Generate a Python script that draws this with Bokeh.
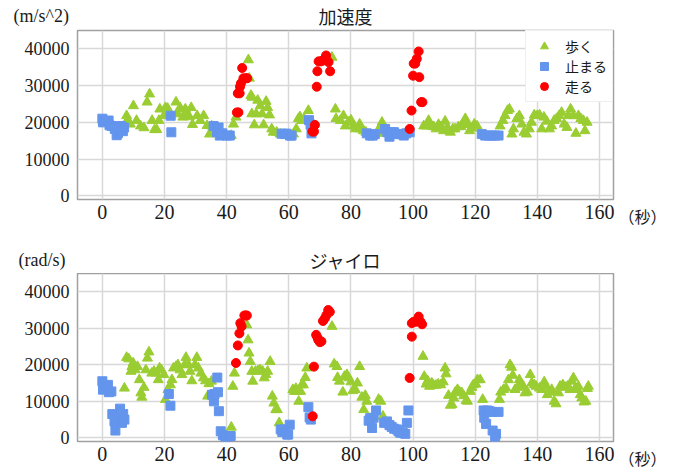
from bokeh.plotting import figure
from bokeh.layouts import column, row
from bokeh.models import Range1d, Label, Legend, LegendItem, FixedTicker
from bokeh.embed import file_html
from bokeh.resources import INLINE

# ---------------- data ----------------
acc_title = "加速度"
gyr_title = "ジャイロ"
acc_unit = "(m/s^2)"
gyr_unit = "(rad/s)"
time_unit = "（秒）"
labels = ["歩く", "止まる", "走る"]
x_ticks = [0, 20, 40, 60, 80, 100, 120, 140, 160]
y_ticks = [0, 10000, 20000, 30000, 40000]

# accelerometer: walking
acc_walk_t = [7.8, 8, 9, 10, 11, 12.3, 13.4, 14.4, 15.2, 16, 16.8, 17.5, 18.2, 18.5, 19.8, 20.3, 21, 23.7, 24.2, 25, 25.9, 26.7, 27.2, 28, 28.6, 29, 30.5, 31.5, 32.6, 33.7, 34.5, 35.2,
              41.5, 42.2, 43,
              47, 47.3, 47.8, 48.2, 48.1, 48.9, 49.5, 50, 50.8, 51.4, 51.9, 52.7, 53.2, 53.8, 54.5, 55, 56.1, 57.2,
              61.5, 62.4, 63.1, 63.6, 64.2, 64.9, 66.3,
              73.9, 75, 75.2, 76.6, 77.6, 78.2, 79.2, 80, 80.9, 81.4, 82.8, 83, 84, 84.8,
              88.9, 89.4, 90, 90.5,
              103.4, 104.2, 105, 105.8, 106.6, 107.4, 108.2, 109, 109.8, 110.3, 111, 112, 112.8, 113.5, 114.6, 115.4, 116, 116.8, 117.6, 118.2, 118.9, 119.7, 120.6,
              128, 128.9, 129.6, 130.4, 131, 131.8, 132.3, 133.4, 134.2, 135, 135.7, 136.5, 137.4, 138.1, 139, 139.9, 140.7, 141.4, 142.1, 143, 143.9, 144.6, 145.4, 146.2, 147, 147.8, 148.6, 149.5, 150, 150.7, 151.6, 152.4, 153.2, 154, 154.8, 155.3, 156]
acc_walk_v = [21800, 20500, 19500, 24500, 20500, 19000, 18500, 25500, 27700, 20500, 18000, 18000, 20500, 23600, 21800, 24000, 23800, 25500, 22300, 24000, 21400, 23600, 22300, 21500, 24000, 19400, 21800, 20500, 21800, 19100, 16800, 19000,
              16400, 19500, 21400,
              37000, 32000, 27300, 26800, 22300, 19300, 22300, 26000, 24500, 22300, 19300, 25700, 24000, 22000, 18200, 17300, 17300, 16800,
              16800, 18200, 21000, 21500, 20500, 21000, 23200,
              37700, 23600, 21000, 20500, 21800, 19000, 20000, 20600, 19000, 18200, 19500, 18200, 17700, 17300,
              17300, 18800, 20000, 17000,
              19000, 19000, 20500, 19000, 18800, 18200, 19400, 18800, 17700, 20300, 18600, 17300, 18200, 18200, 18800, 18800, 19400, 21000, 19500, 17700, 18400, 19500, 19000,
              19000, 20500, 21800, 23200, 23600, 16800, 18200, 21000, 21800, 19500, 17300, 16800, 18200, 20000, 22000, 21800, 22000, 18200, 21400, 20300, 18200, 19000, 20500, 21000, 21800, 22700, 19500, 18600, 21800, 23600, 21800, 17000, 21800, 21000, 20500, 17700, 20000]

# accelerometer: stopped
acc_stop_t = [0, 0.2, 1, 2, 2.3, 3, 4, 4.6, 5, 5.6, 6, 6.6, 7,
              22, 22.2,
              35.8, 36.9, 37.4, 37.8, 38.6, 40, 41,
              57.7, 58.7, 59.3, 60.4, 60.9,
              66.5, 67, 67.3,
              85.1, 86.2, 87, 87.7,
              91, 91.7, 92.4, 93.2, 93.9, 94.8, 95.8, 97, 97.8, 98.9,
              122.1, 123.2, 124.3, 125.3, 126.4, 127.5]
acc_stop_v = [21000, 20000, 20200, 20500, 19200, 19000, 18200, 16500, 17000, 18000, 19000, 17600, 18600,
              21800, 17300,
              19000, 17300, 18600, 16400, 17000, 16400, 16400,
              16900, 16900, 16900, 16400, 16400,
              20600, 19400, 17000,
              17000, 16400, 16400, 16800,
              18200, 17300, 16100, 17300, 17300, 16800, 16800, 16400, 17000, 17300,
              16800, 16400, 16400, 16400, 16400, 16400]

# accelerometer: running
acc_run_t = [43.3, 43.8, 43.6, 44.2, 44.3, 44.6, 45, 45.4, 46.2, 46.6,
             67.6, 68.1, 68.4, 69, 69.2, 69.6, 70.3, 70.9, 71.7, 72, 72.8, 73.3,
             98.9, 99.5, 100, 100.2, 100.7, 101.2, 101.8, 102, 102.6, 103]
acc_run_v = [22700, 22700, 27900, 27900, 29700, 30600, 34800, 32000, 32000, 32000,
             17500, 17500, 19300, 29700, 33900, 36600, 36600, 36800, 37500, 38200, 36400, 33900,
             18200, 23200, 32700, 36000, 36000, 37300, 39300, 32300, 25500, 25500]

# gyroscope: walking
gyr_walk_t = [7.1, 7.8, 8.5, 9.2, 9.5, 9.9, 10.6, 11.3, 11.9, 12.4, 12.7, 13.4, 14, 14.5, 15, 15.9, 16.6, 17.3, 18, 18.4, 19, 19.8, 20.3, 21.1, 21.9, 22.4, 22.9, 23.7, 24.3, 25, 25.6, 26.5, 26.9, 27.7, 28.2, 28.8, 29.8, 30.4, 30.9, 31.7, 32.5, 33.2, 33.9, 34.3, 35.1,
              41.5, 42, 42.5,
              46.5, 46.9, 47.2, 47.6, 48.1, 48.4, 49.3, 50.1, 50.8, 51.6, 52.1, 52.6, 53.2, 54, 54.7, 55.2, 55.8, 56.3, 56.9,
              61.3, 61.8, 62.3, 62.8, 63.2, 63.8, 64.2, 64.7, 65.3, 65.8,
              73.9, 74.6, 75.5, 75.7, 76.3, 77.4, 77.9, 78.7, 79.3, 80, 80.6, 81.4, 82.1, 82.8, 83.5, 84.1, 84.6, 85.1,
              88.9, 89.6, 90.3,
              103.2, 103.6, 104.2, 104.7, 105.3, 106, 106.6, 107.4, 108.1, 108.9, 109.7, 110.3, 110.6, 111.4, 112, 112.5, 113.1, 113.6, 114.3, 115, 115.7, 116.3, 117.1, 117.5, 118.4, 118.9, 119.4, 120.2, 120.7, 121.6, 122.4,
              127.8, 128.2, 129.1, 129.9, 130.7, 131.2, 131.7, 132.1, 132.8, 133.6, 134.2, 134.6, 135.5, 136, 136.8, 137.7, 138.2, 139, 139.6, 140.7, 141.4, 142.2, 142.8, 143.2, 144.1, 144.6, 145.4, 146, 146.8, 147.3, 148.2, 149, 149.7, 150.5, 151.1, 151.6, 152.2, 152.7, 153.2, 153.8, 154.3, 155, 155.6, 156.1, 156.4]
gyr_walk_v = [13600, 22000, 21600, 18200, 19500, 20500, 18600, 19500, 15900, 12300, 11100, 13800, 18600, 21800, 23500, 17700, 18200, 17700, 15900, 19100, 18600, 17300, 10500, 13200, 14500, 15900, 19100, 19500, 20000, 18600, 17300, 20000, 22000, 20000, 18200, 15600, 20000, 22000, 19100, 17700, 16400, 15600, 11400, 14800, 15500,
              2900, 14100, 17700,
              30900, 26800, 23200, 20900, 18200, 15500, 18200, 18400, 18600, 18200, 16400, 17300, 18200, 20900, 11400, 9500, 7700, 7700, 4100,
              13200, 12700, 13500, 12700, 10000, 12700, 14500, 14500, 16500, 19100,
              30500, 20200, 19500, 16500, 15500, 12500, 16800, 17300, 16400, 15300, 12900, 13200, 15000, 19500, 11100, 7700, 11600, 10000,
              10500, 10000, 5900,
              22300, 16800, 14700, 15600, 14100, 15000, 14400, 14400, 14700, 14500, 15300, 19100, 17500, 11600, 8900, 9100, 10900, 12500, 13200, 12500, 12300, 11500, 10200, 10000, 12700, 13800, 14500, 14700, 15900, 15900, 10500,
              10500, 12500, 13200, 13600, 15900, 20000, 19300, 17100, 13200, 13800, 15900, 14500, 14100, 12300, 12500, 17300, 15000, 14500, 14100, 13600, 13200, 15300, 14100, 11800, 12500, 13200, 10000, 9300, 12300, 14100, 14500, 13800, 14100, 13200, 15500, 16400, 13600, 13200, 14100, 11800, 10900, 9800, 10000, 13500, 14100]

# gyroscope: stopped
gyr_stop_t = [0, 0.2, 1.3, 1.8, 2.1, 2.9, 3.2, 3.9, 4.2, 5, 5.7, 6, 6.3, 6.7, 7.1,
              21.4, 21.9,
              35.3, 35.9, 36.1, 37, 37.2, 37.5, 38.1, 38.8, 39.6, 40.4, 41.3,
              57.4, 57.9, 58.6, 59.5, 59.8, 60.3,
              66.3, 66.7, 67.1,
              85.7, 86.2, 86.8, 87.3, 88.1,
              90.7, 91.6, 92.4, 93.1, 93.9, 94.8, 95.3, 95.9, 96.7, 97.5, 98, 98.5,
              122.7, 122.9, 123.5, 123.9, 124.6, 125.3, 125.6, 126.4, 126.7, 127.5]
gyr_stop_v = [15500, 13200, 13600, 14500, 12500, 12700, 6500, 4500, 2000, 5000, 8000, 5500, 4100, 6500, 5000,
              12000, 8800,
              11800, 10000, 12000, 16500, 12500, 7300, 1800, 700, 300, 300, 500,
              2300, 1600, 2300, 900, 900, 3600,
              8400, 5600, 5000,
              4700, 5400, 2700, 5500, 7500,
              4100, 4500, 3500, 3000, 2500, 2300, 1800, 1400, 1400, 1100, 4100, 7500,
              7500, 5500, 3800, 7500, 7300, 7100, 2000, 200, 1100, 7100]

# gyroscope: running
gyr_run_t = [43, 43.6, 44.1, 44.4, 44.8, 45.7, 46.1, 46.5,
             67.7, 68.1, 68.8, 69.2, 69.5, 70, 70.5, 71, 71.6, 72.1, 72.7, 73.2,
             98.9, 99.6, 99.6, 100.2, 101, 101.8, 102.4, 102.9]
gyr_run_v = [20500, 25300, 28600, 31400, 30500, 33500, 33500, 33500,
             5900, 19500, 28200, 27500, 26800, 26200, 26400, 32000, 32700, 33600, 35000, 34500,
             16400, 27700, 31400, 31800, 31800, 33200, 31800, 31100]

# ---------------- styling ----------------
GREEN = "#9acd32"
BLUE = "#6495ed"
RED = "#ff0000"
SERIF = "Liberation Serif"
CJK = "Noto Sans CJK JP"
TXT = "#1a1a1a"
X0, X1 = -8, 164.5
Y0, Y1 = -1000, 45000
W = 674
PW = 616          # width of the chart figures
SW = W - PW       # width of the strip holding the time unit
BL, BR = 77, 3


def header(height, title, unit, unit_x, text_y):
    """A figure without axes whose frame is the whole canvas, holding the title row."""
    h = figure(width=W, height=height, output_backend="svg", toolbar_location=None,
               x_range=Range1d(0, W), y_range=Range1d(height, 0),
               x_axis_type=None, y_axis_type=None, min_border=0)
    h.outline_line_color = None
    h.grid.visible = False
    h.title.visible = False
    h.add_layout(Label(x=345, y=text_y, text=title, text_font=CJK, text_font_size="18px",
                       text_color=TXT, text_align="center", text_baseline="middle"))
    h.add_layout(Label(x=unit_x, y=text_y, text=unit, text_font=SERIF, text_font_size="18px",
                       text_color=TXT, text_align="left", text_baseline="middle"))
    return h


def make_fig(height, btop, bbottom):
    p = figure(width=PW, height=height, output_backend="svg", toolbar_location=None,
               x_range=Range1d(X0, X1), y_range=Range1d(Y0, Y1),
               min_border_left=BL, min_border_right=BR,
               min_border_top=btop, min_border_bottom=bbottom)
    p.title.visible = False
    p.outline_line_color = "#a0a0a0"
    p.outline_line_width = 1.5
    p.xaxis.ticker = FixedTicker(ticks=x_ticks)
    p.yaxis.ticker = FixedTicker(ticks=y_ticks)
    for ax in p.xaxis + p.yaxis:
        ax.axis_line_color = None
        ax.major_tick_line_color = None
        ax.minor_tick_line_color = None
        ax.major_tick_out = 0
        ax.major_tick_in = 0
        ax.major_label_text_font = SERIF
        ax.major_label_text_color = TXT
    p.xaxis.major_label_text_font_size = "20px"
    p.yaxis.major_label_text_font_size = "18px"
    p.xaxis.major_label_standoff = 5
    p.yaxis.major_label_standoff = 8
    p.xgrid.grid_line_color = "#d8d8d8"
    p.ygrid.grid_line_color = "#d8d8d8"
    p.xgrid.grid_line_width = 1.5
    p.ygrid.grid_line_width = 1.5
    return p


def sec_strip(height, btop, bbottom):
    """Narrow figure to the right of a chart: its x-axis carries the time unit."""
    s = figure(width=SW, height=height, output_backend="svg", toolbar_location=None,
               x_range=Range1d(0, SW), y_range=Range1d(0, 1), y_axis_type=None,
               min_border_left=0, min_border_right=0,
               min_border_top=btop, min_border_bottom=bbottom)
    s.title.visible = False
    s.outline_line_color = None
    s.grid.visible = False
    ax = s.xaxis[0]
    ax.ticker = FixedTicker(ticks=[22])
    ax.major_label_overrides = {22: time_unit}
    ax.axis_line_color = None
    ax.major_tick_line_color = None
    ax.minor_tick_line_color = None
    ax.major_tick_out = 0
    ax.major_tick_in = 0
    ax.major_label_standoff = 4
    ax.major_label_text_font = CJK
    ax.major_label_text_font_size = "16px"
    ax.major_label_text_color = TXT
    return s


# ---- accelerometer ----
h1 = header(29, acc_title, acc_unit, 13, 15)
p1 = make_fig(203, 1, 33)          # frame 30..199 on the page
r_w = p1.scatter(acc_walk_t, acc_walk_v, marker="triangle", size=10, color=GREEN)
r_s = p1.scatter(acc_stop_t, acc_stop_v, marker="square", size=9, color=BLUE)
r_r = p1.scatter(acc_run_t, acc_run_v, marker="circle", size=9, color=RED)
legend = Legend(items=[LegendItem(label=labels[0], renderers=[r_w]),
                       LegendItem(label=labels[1], renderers=[r_s]),
                       LegendItem(label=labels[2], renderers=[r_r])],
                location="top_right", margin=0, padding=5, spacing=0,
                glyph_width=26, glyph_height=20, label_height=20, label_standoff=8,
                label_text_font=CJK, label_text_font_size="14px", label_text_color=TXT,
                border_line_color="#dddddd", border_line_width=1,
                background_fill_color="white", background_fill_alpha=1.0)
p1.add_layout(legend, "center")
s1 = sec_strip(203, 1, 33)

# ---- gyroscope ----
h2 = header(41, gyr_title, gyr_unit, 18, 27)
p2 = make_fig(199, 0, 30)          # frame 273..442 on the page
p2.scatter(gyr_walk_t, gyr_walk_v, marker="triangle", size=10, color=GREEN)
p2.scatter(gyr_stop_t, gyr_stop_v, marker="square", size=9, color=BLUE)
p2.scatter(gyr_run_t, gyr_run_v, marker="circle", size=9, color=RED)
s2 = sec_strip(199, 0, 30)

layout = column(h1, row(p1, s1, spacing=0), h2, row(p2, s2, spacing=0), spacing=0)
open("out.html", "w").write(file_html(layout, INLINE))
